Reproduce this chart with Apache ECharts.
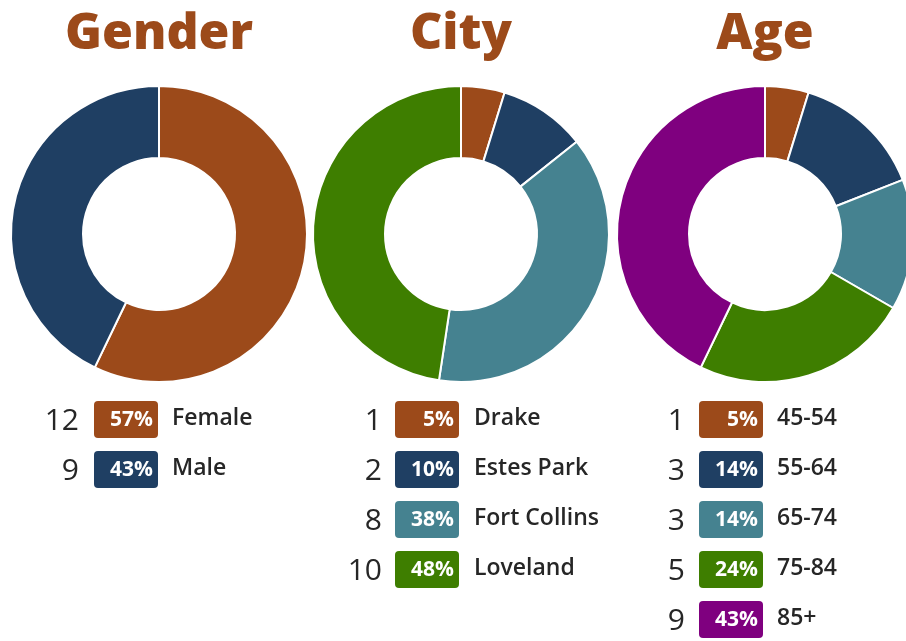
<!DOCTYPE html>
<html>
<head>
<meta charset="utf-8">
<script src="https://cdn.jsdelivr.net/npm/echarts@6/dist/echarts.min.js"></script>
<style>
html,body{margin:0;padding:0;background:#fff;}
#chart{width:906px;height:641px;}
</style>
</head>
<body>
<div id="chart"></div>
<script>
// ---- data ----
const genderNames = ['Female', 'Male'];
const genderCounts = [12, 9];
const cityNames = ['Drake', 'Estes Park', 'Fort Collins', 'Loveland'];
const cityCounts = [1, 2, 8, 10];
const ageNames = ['45-54', '55-64', '65-74', '75-84', '85+'];
const ageCounts = [1, 3, 3, 5, 9];
const titles = ['Gender', 'City', 'Age'];

// ---- styling ----
const palette = ['#9c4a1a', '#1f3f63', '#458290', '#3e7e00', '#7f007f'];
const titleColor = '#9c4a1a';
const textColor = '#262626';
const FONT = '"Open Sans", "Noto Sans", sans-serif';
const centersX = [159, 461, 765];
const centerY = 234;
const rOuter = 148, rInner = 76;
const legendTop = 401, rowGap = 50, boxH = 37, boxW = 64;
const numRight = [79, 382, 685];
const boxLeft = [94, 395, 699];
const labelLeft = [172, 474, 777];

const groups = [
  {names: genderNames, counts: genderCounts},
  {names: cityNames, counts: cityCounts},
  {names: ageNames, counts: ageCounts}
];

const chart = echarts.init(document.getElementById('chart'));

const series = groups.map((g, gi) => ({
  type: 'pie',
  center: [centersX[gi], centerY],
  radius: [rInner, rOuter],
  startAngle: 90,
  clockwise: true,
  avoidLabelOverlap: false,
  label: {show: false},
  labelLine: {show: false},
  emphasis: {disabled: true},
  silent: true,
  animation: false,
  itemStyle: {borderColor: '#fff', borderWidth: 2},
  data: g.names.map((n, i) => ({name: n, value: g.counts[i], itemStyle: {color: palette[i]}}))
}));

const graphics = [];
groups.forEach((g, gi) => {
  const total = g.counts.reduce((a, b) => a + b, 0);
  g.names.forEach((n, i) => {
    const y = legendTop + i * rowGap;
    const cy = y + boxH / 2;
    const pct = Math.round(g.counts[i] / total * 100) + '%';
    graphics.push({
      type: 'text',
      style: {text: String(g.counts[i]), x: numRight[gi], y: cy + 2, align: 'right', verticalAlign: 'middle',
        font: '400 30px ' + FONT, fill: textColor}
    });
    graphics.push({
      type: 'rect', shape: {x: boxLeft[gi], y: y, width: boxW, height: boxH, r: 4},
      style: {fill: palette[i]}
    });
    graphics.push({
      type: 'text',
      style: {text: pct, x: boxLeft[gi] + boxW - 5, y: cy + 1, align: 'right', verticalAlign: 'middle',
        font: '700 21px ' + FONT, fill: '#fff'}
    });
    graphics.push({
      type: 'text',
      style: {text: n, x: labelLeft[gi], y: cy - 1, align: 'left', verticalAlign: 'middle',
        font: '600 23px ' + FONT, fill: textColor}
    });
  });
});

chart.setOption({
  backgroundColor: '#fff',
  animation: false,
  title: titles.map((t, i) => ({
    text: t, left: centersX[i] - 5, top: 5, textAlign: 'center',
    textStyle: {fontFamily: FONT, fontWeight: 800, fontSize: 50, color: titleColor}
  })),
  series: series,
  graphic: graphics
});
</script>
</body>
</html>
